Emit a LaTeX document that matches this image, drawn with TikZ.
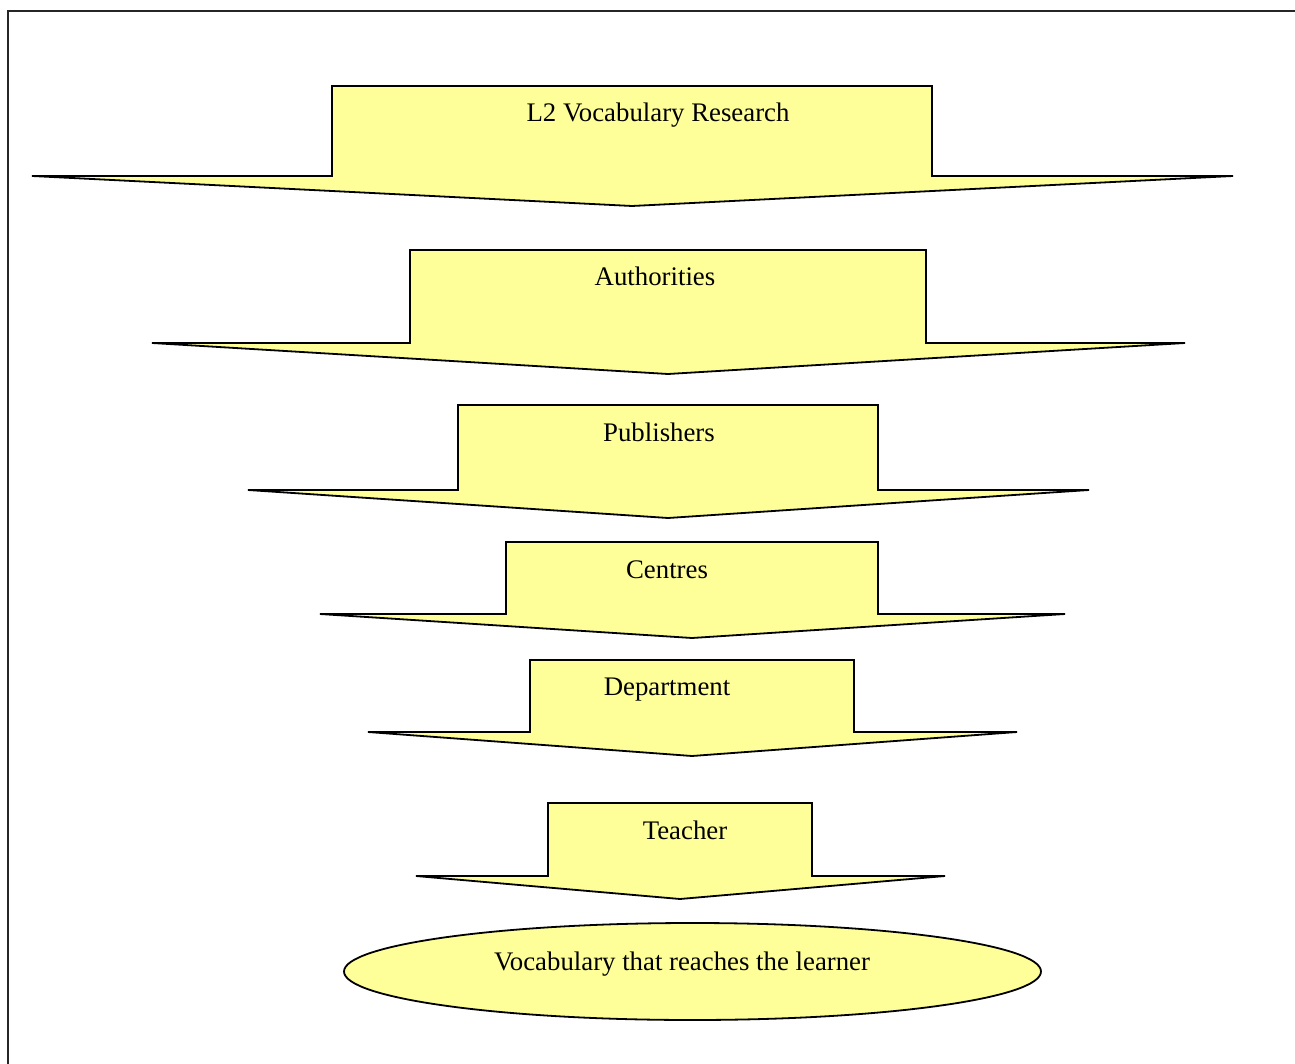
\documentclass[tikz,border=0pt]{standalone}
\usepackage{fontspec}
\setmainfont{Liberation Serif}
\usetikzlibrary{shapes.geometric}
\definecolor{arrowfill}{RGB}{255,255,153}
\tikzset{
  flowarrow/.style={draw=black, fill=arrowfill, line width=1.8pt, line join=miter},
  lbl/.style={font=\fontsize{26.8}{30}\selectfont, anchor=base, inner sep=0pt},
  framelin/.style={draw=black!85, line width=2pt}
}
% #1 rect left, #2 rect right, #3 top, #4 shoulder, #5 wing left, #6 wing right, #7 tip x, #8 tip y
\newcommand{\downarrowshape}[8]{%
  \path[flowarrow] (#1,#3) -- (#2,#3) -- (#2,#4) -- (#6,#4) -- (#7,#8) -- (#5,#4) -- (#1,#4) -- cycle;}
\begin{document}
\begin{tikzpicture}[x=1pt,y=-1pt]
\useasboundingbox (0,0) rectangle (1295,1064);
\draw[framelin] (8,1070) -- (8,11) -- (1300,11);

\downarrowshape{332}{932}{86}{176}{32}{1233}{632}{206}
\downarrowshape{410}{926}{250}{343}{152}{1185}{668}{374}
\downarrowshape{458}{878}{405}{490}{248}{1089}{668}{518}
\downarrowshape{506}{878}{542}{614}{320}{1065}{692}{638}
\downarrowshape{530}{854}{660}{732}{368}{1017}{692}{756}
\downarrowshape{548}{812}{803}{876}{416}{945}{680}{899}

\node[draw=black, fill=arrowfill, line width=1.8pt, ellipse, minimum width=697pt, minimum height=97pt, inner sep=0pt] (learner) at (692.5,971.5) {};

\node[lbl] (research) at (658,122) {L2 Vocabulary Research};
\node[lbl] (authorities) at (655,286) {Authorities};
\node[lbl] (publishers) at (659,441) {Publishers};
\node[lbl] (centres) at (667,578) {Centres};
\node[lbl] (department) at (667,695) {Department};
\node[lbl] (teacher) at (685,839) {Teacher};
\node[lbl] (vocab) at (682,970) {Vocabulary that reaches the learner};
\end{tikzpicture}
\end{document}
